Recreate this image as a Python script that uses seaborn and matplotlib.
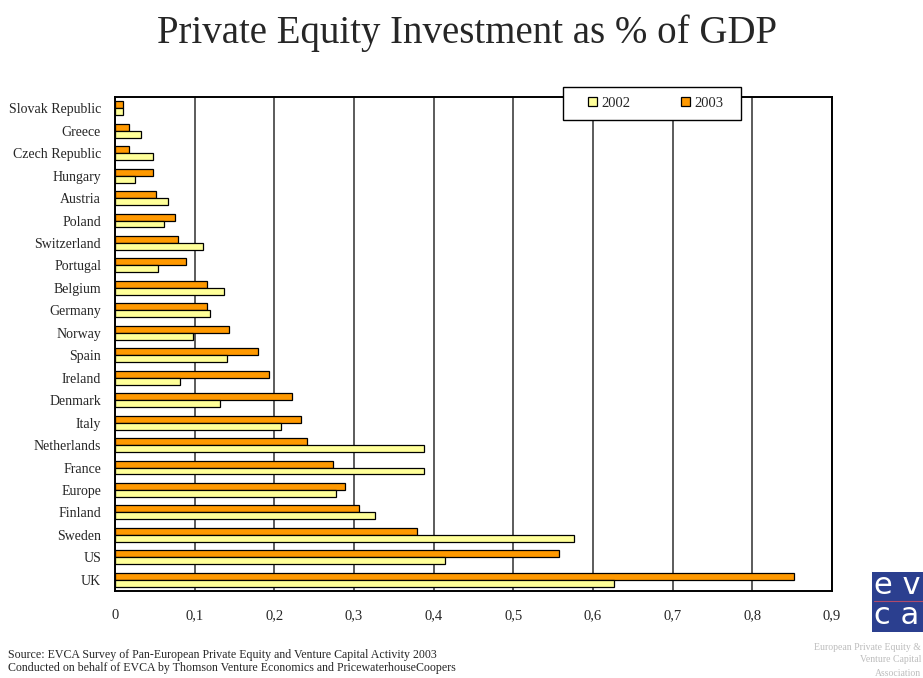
import matplotlib
matplotlib.use("Agg")
import matplotlib.pyplot as plt
import matplotlib.patches as mpatches
import pandas as pd
import seaborn as sns

countries = ["Slovak Republic", "Greece", "Czech Republic", "Hungary", "Austria",
             "Poland", "Switzerland", "Portugal", "Belgium", "Germany", "Norway",
             "Spain", "Ireland", "Denmark", "Italy", "Netherlands", "France",
             "Europe", "Finland", "Sweden", "US", "UK"]
pe_2003 = [0.010, 0.017, 0.018, 0.048, 0.051, 0.075, 0.079, 0.089, 0.115, 0.116,
           0.143, 0.180, 0.193, 0.222, 0.234, 0.241, 0.274, 0.289, 0.306, 0.379,
           0.557, 0.852]
pe_2002 = [0.010, 0.033, 0.048, 0.025, 0.067, 0.061, 0.111, 0.054, 0.137, 0.119,
           0.098, 0.140, 0.082, 0.132, 0.208, 0.388, 0.388, 0.277, 0.326, 0.576,
           0.414, 0.626]
years = ["2002", "2003"]
x_ticks = [0, 0.1, 0.2, 0.3, 0.4, 0.5, 0.6, 0.7, 0.8, 0.9]
x_tick_labels = ["0", "0,1", "0,2", "0,3", "0,4", "0,5", "0,6", "0,7", "0,8", "0,9"]

df = pd.DataFrame({
    "country": countries * 2,
    "value": pe_2003 + pe_2002,
    "year": ["2003"] * len(countries) + ["2002"] * len(countries),
})

sns.set_style("white")
plt.rcParams["font.family"] = ["Liberation Serif", "DejaVu Serif"]

W, H = 923, 678
fig = plt.figure(figsize=(W / 100, H / 100), dpi=100)
ax = fig.add_axes([115 / W, 1 - 591 / H, 717 / W, 494 / H])

palette = {"2002": "#FFFF99", "2003": "#FF9900"}
sns.barplot(data=df, y="country", x="value", hue="year", hue_order=["2003", "2002"],
            palette=palette, orient="h", width=0.62, edgecolor="black",
            linewidth=0.9, saturation=1, ax=ax, legend=False)

ax.set_xlim(0, 0.9)
ax.set_xticks(x_ticks)
ax.set_xticklabels(x_tick_labels, fontsize=10.5)
ax.set_xlabel("")
ax.set_ylabel("")
ax.tick_params(axis="x", length=0, pad=13)
ax.tick_params(axis="y", length=0, pad=10, labelsize=10)
ax.xaxis.grid(True, color="#404040", linewidth=1.2)
ax.set_axisbelow(True)
for s in ax.spines.values():
    s.set_visible(True)
    s.set_color("black")
    s.set_linewidth(1.4)

# legend box straddling the top edge of the plot frame
box_x0, box_x1 = (563 - 115) / 717, (741 - 115) / 717
box_y0, box_y1 = (591 - 120) / 494, (591 - 87) / 494
frame = mpatches.Rectangle((box_x0, box_y0), box_x1 - box_x0, box_y1 - box_y0,
                           transform=ax.transAxes, facecolor="white",
                           edgecolor="black", linewidth=1.0, clip_on=False, zorder=4.5)
ax.add_patch(frame)
handles = [mpatches.Patch(facecolor=palette[y], edgecolor="black", linewidth=0.9, label=y)
           for y in years]
leg = ax.legend(handles=handles, ncol=2, loc="center",
                bbox_to_anchor=((box_x0 + box_x1) / 2 + 0.005, (box_y0 + box_y1) / 2),
                frameon=False, fontsize=10.5, handlelength=0.6, handleheight=0.6,
                handletextpad=0.3, columnspacing=3.5, borderpad=0, borderaxespad=0)
leg.set_zorder(6)

fig.text(157 / W, 1 - 43 / H, "Private Equity Investment as % of GDP", ha="left",
         va="baseline", fontsize=28)

fig.text(8 / W, 1 - 655 / H,
         "Source: EVCA Survey of Pan-European Private Equity and Venture Capital Activity 2003",
         fontsize=8.6, ha="left", va="center")
fig.text(8 / W, 1 - 668 / H,
         "Conducted on behalf of EVCA by Thomson Venture Economics and PricewaterhouseCoopers",
         fontsize=8.6, ha="left", va="center")

# evca logo block
logo = mpatches.Rectangle((872 / W, 1 - 632 / H), 60 / W, 60 / H,
                          transform=fig.transFigure, facecolor="#2B3F8F",
                          edgecolor="none")
fig.patches.append(logo)
fig.add_artist(plt.Line2D([874 / W, 1.0], [1 - 601 / H, 1 - 601 / H],
                          transform=fig.transFigure, color="#B04A6A", linewidth=0.8))
fig.text(874 / W, 1 - 586 / H, "e v", color="white", fontsize=22,
         family="DejaVu Sans", ha="left", va="center")
fig.text(874 / W, 1 - 616 / H, "c a", color="white", fontsize=22,
         family="DejaVu Sans", ha="left", va="center")
for i, line in enumerate(["European Private Equity &", "Venture Capital", "Association"]):
    fig.text(921 / W, 1 - (647 + 13 * i) / H, line, color="#BDBDBD",
             fontsize=7, ha="right", va="center")

fig.savefig("out.png", dpi=100)
